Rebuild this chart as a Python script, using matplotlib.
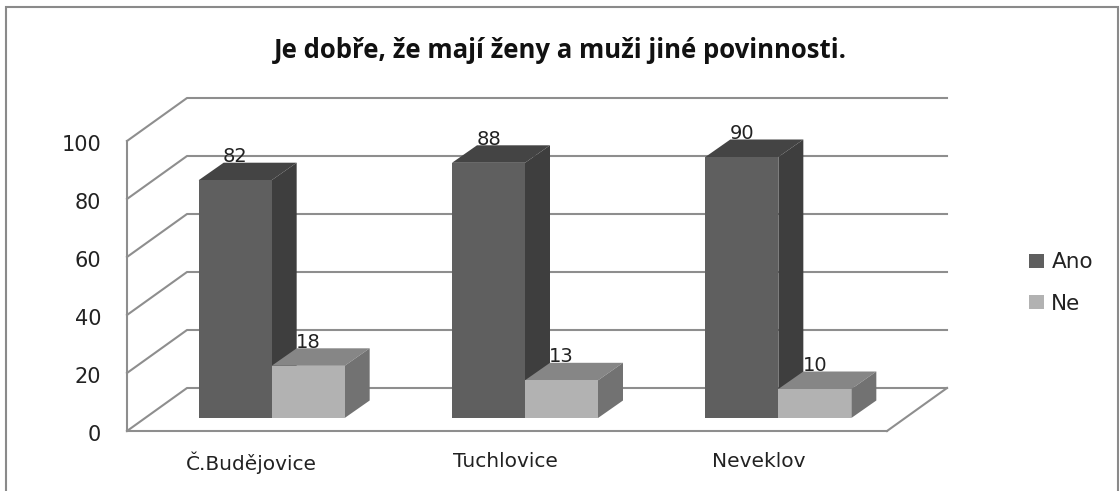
import matplotlib
matplotlib.use("Agg")
import matplotlib.pyplot as plt
import matplotlib.transforms as mtrans
from matplotlib.patches import Polygon, Rectangle, Patch

title = "Je dobře, že mají ženy a muži jiné povinnosti."
categories = ["Č.Budějovice", "Tuchlovice", "Neveklov"]
ano = [82, 88, 90]
ne = [18, 13, 10]
yticks = [0, 20, 40, 60, 80, 100]

W, H = 1120, 491
# size of the plot area in pixels
LEFT, RIGHT, TOP, BOTTOM = 127, 887, 141, 431

fig = plt.figure(figsize=(W / 100, H / 100), dpi=100, facecolor="white")
ax = fig.add_axes([LEFT / W, 1 - BOTTOM / H, (RIGHT - LEFT) / W, (BOTTOM - TOP) / H])
ax.set_xlim(0, 3)
ax.set_ylim(0, 100)
ax.patch.set_visible(False)

# fake 3d: floor depth and bar depth in data units
px_x = 3 / (RIGHT - LEFT)
px_y = 100 / (BOTTOM - TOP)
wall_dx, wall_dy = 60 * px_x, 43 * px_y
bar_x0, bar_y0 = 18 * px_x, 13 * px_y
bar_dx, bar_dy = 25 * px_x, 17.5 * px_y
bar_w = 73 * px_x
grid_col = "#8e8e8e"


def draw_bar(x, val, front, top, side):
    y0 = bar_y0
    y1 = bar_y0 + val
    ax.add_patch(Polygon([(x, y1), (x + bar_dx, y1 + bar_dy), (x + bar_w + bar_dx, y1 + bar_dy), (x + bar_w, y1)],
                         fc=top, ec="none", clip_on=False, zorder=3))
    ax.add_patch(Polygon([(x + bar_w, y0), (x + bar_w + bar_dx, y0 + bar_dy), (x + bar_w + bar_dx, y1 + bar_dy), (x + bar_w, y1)],
                         fc=side, ec="none", clip_on=False, zorder=3))
    ax.add_patch(Rectangle((x, y0), bar_w, val, fc=front, ec="none", clip_on=False, zorder=4))
    ax.annotate(str(val), (x + bar_w / 2, y1), xytext=(0, 17), textcoords="offset points",
                ha="center", va="center", fontsize=14, color="#222222", zorder=6, annotation_clip=False)


for t in yticks:
    ax.plot([0, wall_dx, 3 + wall_dx], [t, t + wall_dy, t + wall_dy], color=grid_col, lw=1.5, clip_on=False, zorder=1)
ax.plot([3, 3 + wall_dx], [0, wall_dy], color=grid_col, lw=1.5, clip_on=False, zorder=1)

for i in range(len(categories)):
    c = i + 0.5 + bar_x0
    draw_bar(c - bar_w, ano[i], "#5f5f5f", "#444444", "#3e3e3e")
    draw_bar(c, ne[i], "#b2b2b2", "#868686", "#727272")

for s in ["top", "right"]:
    ax.spines[s].set_visible(False)
for s in ["left", "bottom"]:
    ax.spines[s].set_color(grid_col)
    ax.spines[s].set_linewidth(1.5)
ax.set_yticks(yticks)
ax.set_xticks([i + 0.5 for i in range(len(categories))])
ax.set_xticklabels(categories)
ax.tick_params(axis="y", length=0, pad=18.5, labelsize=15, labelcolor="#222222")
ax.tick_params(axis="x", length=0, pad=15, labelsize=14.5, labelcolor="#222222")
# labels sit a little off their ticks in the original
for lab in ax.get_yticklabels():
    lab.set_transform(lab.get_transform() + mtrans.ScaledTranslation(0, -2 / 100, fig.dpi_scale_trans))
for lab in ax.get_xticklabels():
    lab.set_transform(lab.get_transform() + mtrans.ScaledTranslation(-2 / 100, 0, fig.dpi_scale_trans))

fig.text(560 / W, 1 - 50 / H, title, ha="center", va="center", fontsize=18.5, fontweight="bold",
         family="Open Sans", color="#111111")

fig.legend(handles=[Patch(fc="#5f5f5f", label="Ano"), Patch(fc="#b2b2b2", label="Ne")],
           loc="upper left", bbox_to_anchor=(1010 / W, 1 - 233 / H), frameon=False, fontsize=15.5,
           handlelength=0.7, handleheight=0.6, handletextpad=0.32, labelspacing=1.0, labelcolor="#222222")

# outer frame of the chart
fig.add_artist(Rectangle((6 / W, -0.02), 1112 / W, 1.02 - 7 / H, transform=fig.transFigure,
                         fc="none", ec="#8a8a8a", lw=1.5))

fig.savefig("out.png", dpi=100)
plt.close(fig)
